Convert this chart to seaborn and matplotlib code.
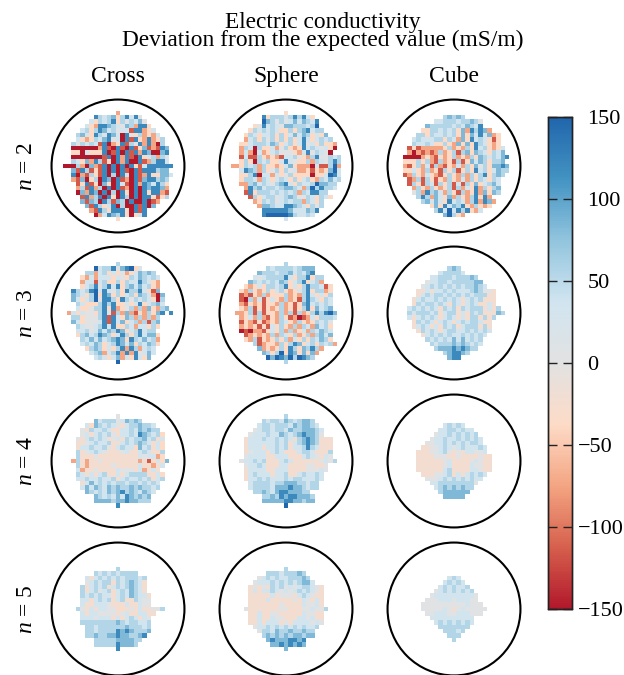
"""Electric conductivity deviation maps, three shapes by four mesh orders."""

import numpy as np
import pandas as pd
import matplotlib
matplotlib.use("Agg")
import matplotlib.pyplot as plt
import matplotlib.transforms as mtrans
import seaborn as sns

# one letter per pixel of the map, "." = outside the domain
LEVEL_VALUES = {"a": -150, "b": -115, "c": -75, "d": -38, "k": -24, "e": 5,
                "f": 34, "g": 56, "h": 84, "i": 120, "j": 148, ".": np.nan}

CROSS_N2 = [
    "............c............",
    ".......igfghdgifie.......",
    "......fdgfgidgegfhe......",
    ".....fdciihgfehgciid.....",
    "....fgdgihfgeffbiicdf....",
    "...ghfdigeihfaiedgcdcf...",
    "...fdcdgfhiefaibidcicdg..",
    "..gegfgfbiacdibgeicicag..",
    "..aaaaaacibaibaibdhbcbih.",
    "..ddafdddiabiaibicihaahi.",
    "..aaaaaaabiaicibaidfgcge.",
    "..gfdhcigbdaiciaaibcgiif.",
    "aaagcahcbiaiaiaidbfiiiiii",
    "..hbigbdbiaiaibaibiiighh.",
    "..iacbgdbiagaifaibciddhhf",
    "..cbhadgaihaibcaibhiighg.",
    "...bdibdahdaifbaicihfigd.",
    "...cgbicgaiaibcaiaihiihc.",
    "...ahcihaiagaidaiaidiicb.",
    "....bicgiaidaigaiaiidbdg.",
    "....hbhgaigbhgaiaaiabc...",
    ".....hbigdfiagaaibiah....",
    "......cbigdiiidaibi......",
    ".......acfihgidadfi......",
    "............d............",
]
SPHERE_N2 = [
    "............d............",
    ".......idgggfgigifd......",
    ".......jhgegefhfhgfi.....",
    ".....deifgfehhgggfgj.....",
    "....dgfgfgfddgdghifgg....",
    "...dgfdffgdgdfhfhgdfdh...",
    "...cfgdgegdgdgdfifdfgfg..",
    "..ddfgggfhgdfgdfiefdgddc.",
    "..cgfagddfcegdcdifgfefda.",
    "..cfcafcdfgeeedcfiegfea..",
    "..bfbbgdcdcbffgedcgieegfg",
    "..dgdagfgddfifeddgcgfegig",
    "ccdgfgcgddcdfhdcccafbbgjc",
    "..fihgcgdegdgefccdbdcdhjf",
    "..ddgiaffcfdegddddaddfjif",
    "..dggfcgfdfgfdgdfgdcgfhfg",
    "..ccghfgfeghifdgffgjhhgg.",
    "...cighfggfghhgfcgjgiggf.",
    "...bidgggfgfgfgcgfiigg...",
    "....bgdfggefghgeegfdgfd..",
    ".....cdgfgefgfggcgfdg....",
    "......chhgffiihgfdgeg....",
    ".......iiiiiihfffhgi.....",
    ".......ijjjjjigffgf......",
    "............f............",
]
CUBE_N2 = [
    ".........................",
    "..........ghghg..........",
    "........ffgggfgghge......",
    "......hgggggfgfhgfi......",
    ".....ddggfgfgdhcigihc....",
    "....ggdgffgfgdhdhfifhcd..",
    "...fgfffggdgfchdifgfdbd..",
    "...gffgfddgdchdhdigfdcd..",
    "..bdbcccccdgcdcgdifgdcdf.",
    "..cacbcbcgcdgbghdhgfdgfh.",
    ".aaaacdcbdcdgcdcgdhgfgfhi",
    ".dddgdgcbgcdbgbdhfhgdggh.",
    ".cbdgcfbgcbdcfcgdhegdhhih",
    ".ddfdcgcdbgdgbdgdifgdfhgg",
    ".bcgdcfdcbdgdcgcgdgidghg.",
    "..bcgbgdbdcgdcfcgdgfdgf..",
    "..bgdbgfbgdgbfbgdhdfghf..",
    "...cgdcgdcdgbgcfdicgdgh..",
    "...egcighfcgdbgcdichdhg..",
    "....gigchfdhcgdcgidic....",
    ".....ghfhfdifgfcgicihc...",
    ".......dhdifhgidcgdcd....",
    "........gifjfigidcf......",
    "..........hjgdc..........",
    ".........................",
]
CROSS_N3 = [
    ".........................",
    "............g............",
    ".......jfggiehijde.......",
    ".....ggcfgdfdecdfhghg....",
    "....dcfcfffdfedgfhgfgf...",
    "....cffbfgddgdgffigfdc...",
    "....dfgiegifidghfhfgdc...",
    "..igfgijfifegdiggifdbh...",
    "..hgfdgjdihdgdfgdhgfcah..",
    "..hfdfgjeiigdigegfgfdag..",
    "...gfdddgigiddfdfidfghf..",
    "...fddeggidicdegcgchdcgh.",
    ".cfdfeedgifbgchcbdcgdhi.i",
    "..ggdeeegibifdhgcgcgcg...",
    "..hfdeeefibifhdfgcgbgh...",
    "...gfeefgifiddgfcffdgd...",
    "...ffgefhfhgihdfgifgg....",
    "...dghfgihgdfigdgifhhd...",
    "....gfhfhfghihdigfhfgc...",
    "....fgfhgdfgihfhdgfhgd...",
    ".....dghgdfdgicigcfgf....",
    "......fghcfgiciciefhf....",
    ".......fgfdfhcfdifdh.....",
    "............j............",
    ".........................",
]
SPHERE_N3 = [
    ".........................",
    "............g............",
    "........gfggggfghhh......",
    "......hgggfgghfgfhi......",
    ".....fefggggifdggidgg....",
    "....hgfgfgfhgdfgidfgc....",
    "...dcdfdggfgidfdgiggfbd..",
    "..dcgdcdgdfgdcdfgidggcd..",
    "..bcbdcgcdddgcdcgifdfdg..",
    "..bagcfbdfdcgcdbgigfdgf..",
    "..cbdcdbddcgcdbdhifgfgf..",
    "..dcgbdbdcdgcdbdgidhfgh..",
    ".ccdgbgbddcgcgbgcdgigijh.",
    "..cdfcgcbdcgdbcabcfdgggf.",
    "..bdcbdbcdcgfdcgdcdgfge..",
    "..cdcdbdbfdgdcgcgfchfgd..",
    "..abaccbdfdgcgcdfcgfhgf..",
    "...bcdcdcgcgfdgcdgcghfh..",
    "...dcgbdcdgdgcfdgdgfhgd..",
    ".....gbcddcgdgihdfgdgfgc.",
    "......hcdcdgdigdhgigc....",
    ".......hgdgjdihdhdhc.....",
    "........jhjihjgjihg......",
    "............g............",
    ".........................",
]
CUBE_N3 = [
    ".........................",
    ".........................",
    "...........ghg...........",
    ".........fggggf..........",
    ".......ffgggfggghg.......",
    "......effggfggggghh......",
    ".....efgfgfgfgfgghgf.....",
    "....kkfkffgfgfffghgeek...",
    "....kfgfggfgfgfgfgggkk...",
    "...kfgffgfgfgfkfgfgkkk...",
    "...kgfggfgfkgfkfgfkkfk...",
    "..fgfgfgfkgfgkgfgggkfkg..",
    "..gfgggfgkfggkfkgfgkkkhg.",
    "..fkfgfgfkfgfkfkggkgkg...",
    "...kgfgfkfgfkfgfggfkk....",
    "...kfgfkfkgfgkfgggkgk....",
    "....kgfgfkfggffgfgfgf....",
    ".....kfgfgfgffgfgfgf.....",
    "......gfgfgfhfhfgfg......",
    ".......gfggghghgfgf......",
    "........ghhhihihgg.......",
    "..........ghiihg.........",
    "...........hii...........",
    ".........................",
    ".........................",
]
CROSS_N4 = [
    ".........................",
    ".........................",
    "............e............",
    ".......hfgggefhghg.......",
    ".....fdhgfgfekfgghggf....",
    "....ekgffgfkkffgfhghgg...",
    "....efkfgfgekffgfihgfgd..",
    "...ekfgfgfkefkgfgghfgkf..",
    "...kkefgffgkkfgfghgfkfd..",
    "...kffgffgekfgffdhfgkfd..",
    "...gkefgfekkkefkkfgfkkg..",
    "...gkkkekkkkkkkkkfeffcd..",
    "..cgkckkekkkkkkkkckbdfdh.",
    "...gkckkkkkekkkkkfkkckf..",
    "...fckkekkkkfeeekfckfk...",
    "...gfkfkfgkkfkfggggkkfd..",
    "...ffgffgffgkfgffgfgkfg..",
    "....kfhfgfgfggfggfgfgf...",
    "....fhfhgfhghgghghggfg...",
    ".....hgfgfhghighgfhgf....",
    ".......hgfgfhfihghgh.....",
    ".......hhhhghhihhggg.....",
    "............i............",
    ".........................",
    ".........................",
]
SPHERE_N4 = [
    ".........................",
    ".........................",
    "............g............",
    ".......gfggfhgfghhg......",
    "......fggfgggfhghhgf.....",
    ".....efggfggfhgghhhgf....",
    "....efffgffhgfghihhge....",
    "...kfffgffgfgfkghihgkkk..",
    "...kffffffgfgkfghihgkkk..",
    "...kfffkffgfgkffgigfkkk..",
    "...kefffkfgfkkkfggfkkkg..",
    "...effffkkfffkkkfgfekfe..",
    "..effgfgkkkfgfkkkkkkefeg.",
    "...effgfkkkffkkkkeekke...",
    "...kffffkkfffkkkkeeefe...",
    "...kfgfffkffgkkfgffgf....",
    "...kffgfgfffgfggfffgf....",
    "....fggggfgghhhggfgg.....",
    "....fggggfhhhihhgfgg.....",
    ".....gghgfhiihhhgg.......",
    ".......gghgihiihhhg......",
    ".......hhhhhiihhghh......",
    "............j............",
    ".........................",
    ".........................",
]
CUBE_N4 = [
    ".........................",
    ".........................",
    ".........................",
    ".........................",
    "..........fgfgf..........",
    ".........ffggfgff........",
    "........effgfgfgfg.......",
    ".......effgffgfgfgf......",
    "......eeffgfgfgfggf......",
    ".....kkeefgfefgfffgf.....",
    "....kkkeefgekekffeef.....",
    "....kkkkeeekkekkkkekk....",
    "....kkkkkkefkkkkefekk....",
    "....kkkkkkefkkkkfeekk....",
    "....kkkkkkfgkkkkffekk....",
    ".....kkkeefgkfkfgfgf.....",
    "......eeefgfgfgfgff......",
    ".......ffgggggggge.......",
    "........fghghghgg........",
    ".........ghhhhhh.........",
    "..........hhhhh..........",
    ".........................",
    ".........................",
    ".........................",
    ".........................",
]
CROSS_N5 = [
    ".........................",
    ".........................",
    ".........................",
    "............g............",
    ".......gfgfgfgggg........",
    ".....fkfgfgfgfgggfg......",
    ".....efgfggkgfghgfk......",
    "....gkfgfgkfgfghgfk......",
    "....gkfgefgkfgfhgfk......",
    "....gfgfgffkfgfhgffk.....",
    "....ffkfgfgkfgkkgfee.....",
    "....fkkfffekkkfkkfee.....",
    "...gekfkffeekdkekfkkeeg..",
    "....fkffeeeekefkkffkk....",
    "....fffefffkfkfgfkfe.....",
    "....gggggggghgfggffg.....",
    ".....ggfgggggghgggfg.....",
    ".....ggfggggihihgggh.....",
    ".....gghgghhihhgghi......",
    ".......ggggghhhhgg.......",
    ".......gggggihhhg........",
    "............i............",
    ".........................",
    ".........................",
    ".........................",
]
SPHERE_N5 = [
    ".........................",
    ".........................",
    ".........................",
    "............g............",
    "........gggfggghg........",
    "......efgfgffggghg.......",
    ".....efffgfgfgfghhf......",
    "....kekekgfgefefggfek....",
    "....kfkffgfefefgfgfek....",
    "....kkkkkfkeeekfgfekk....",
    "....kkkkfkkkkkekfekfk....",
    "....kkkkkkkekkkkfeefk....",
    "...ekkkkkkkeekkkeefeeg...",
    "....kkfkkeekkkkkfeekk....",
    "....kkfkkfeekkkffefkk....",
    "....kkfkfffkekffffefe....",
    ".....effgfgfgfgfgffg.....",
    "......eggfhgghgghgg......",
    ".......ghghghghhghh......",
    "........hihhhiihi........",
    ".........hhihihih........",
    "............h............",
    ".........................",
    ".........................",
    ".........................",
]
CUBE_N5 = [
    ".........................",
    ".........................",
    ".........................",
    ".........................",
    ".........................",
    "...........fgf...........",
    "..........fgfgf..........",
    ".........fgfgffg.........",
    "........efgfgfgfg........",
    ".......efffffffffe.......",
    "......eeefffefffee.......",
    ".....eeeeeeeeeefeee......",
    ".....eeeeefekefeeeee.....",
    "......eefffeefffeee......",
    ".......ffffffffff........",
    "........fgfgfgfgf........",
    ".........ggggggg.........",
    "..........gggfg..........",
    "...........ggg...........",
    "............g............",
    ".........................",
    ".........................",
    ".........................",
    ".........................",
    ".........................",
]

COLUMN_TITLES = ["Cross", "Sphere", "Cube"]
ROW_TITLES = [r"$n$ = 2", r"$n$ = 3", r"$n$ = 4", r"$n$ = 5"]
PANELS = [
    [CROSS_N2, SPHERE_N2, CUBE_N2],
    [CROSS_N3, SPHERE_N3, CUBE_N3],
    [CROSS_N4, SPHERE_N4, CUBE_N4],
    [CROSS_N5, SPHERE_N5, CUBE_N5],
]
CBAR_TICKS = [-150, -100, -50, 0, 50, 100, 150]
CBAR_LABELS = ["\u2212150", "\u2212100", "\u221250", "0", "50", "100", "150"]

W, H = 624, 675
CELL = 4.43  # pixels per map cell
COL_X = [118, 286, 454]
ROW_Y = [166, 313, 461, 609]


def to_frame(rows):
    """Turn the letter rows into a table of values."""
    values = [[LEVEL_VALUES[ch] for ch in row[:25].ljust(25, ".")] for row in rows]
    return pd.DataFrame(values)


def px_axes(fig, x0, y0, x1, y1):
    """Axes from picture pixels, y counted from the top."""
    return fig.add_axes([x0 / W, 1 - y1 / H, (x1 - x0) / W, (y1 - y0) / H])


sns.set_style("white")
plt.rcParams["font.family"] = ["Liberation Serif", "DejaVu Serif"]
plt.rcParams["mathtext.fontset"] = "custom"
plt.rcParams["mathtext.it"] = "Liberation Serif:italic"
plt.rcParams["mathtext.rm"] = "Liberation Serif"
plt.rcParams["text.color"] = "black"
plt.rcParams["ytick.labelcolor"] = "black"
plt.rcParams["axes.axisbelow"] = False

cmap = sns.blend_palette(["#b2182b", "#d6604d", "#f4a582", "#fddbc7", "#e2e2e2",
                          "#d1e5f0", "#92c5de", "#4393c3", "#2166ac"], n_colors=256, as_cmap=True)

fig = plt.figure(figsize=(W / 100, H / 100), dpi=100)

half = 16 * CELL
cax = px_axes(fig, 548, 117, 572, 609)
for i, row_panels in enumerate(PANELS):
    for j, rows in enumerate(row_panels):
        ax = px_axes(fig, COL_X[j] - half, ROW_Y[i] - half, COL_X[j] + half, ROW_Y[i] + half)
        first = i == 0 and j == 0
        sns.heatmap(to_frame(rows), ax=ax, cmap=cmap, vmin=-150, vmax=150,
                    xticklabels=False, yticklabels=False, cbar=first,
                    cbar_ax=cax if first else None)
        ax.set_xlim(-3.5, 28.5)
        ax.set_ylim(28.5, -3.5)
        ax.add_patch(plt.Circle((12.5, 12.5), 15, fill=False, color="black", lw=1.5, clip_on=False))
        ax.set_axis_off()

for x, name in zip(COL_X, COLUMN_TITLES):
    fig.text(x / W, 1 - 82 / H, name, ha="center", va="baseline", fontsize=17)
for y, name in zip(ROW_Y, ROW_TITLES):
    fig.text(27 / W, 1 - y / H, name, ha="center", va="center", rotation=90, fontsize=17)

fig.text(323 / W, 1 - 46 / H, "Electric conductivity\nDeviation from the expected value (mS/m)",
         ha="center", va="baseline", fontsize=16.8, linespacing=0.8, multialignment="center")

cax.set_yticks(CBAR_TICKS)
cax.set_yticklabels(CBAR_LABELS, fontsize=16)
cax.tick_params(axis="y", left=True, right=True, direction="in", length=6.5, width=1, color="#222222", pad=4)
# the digits line up and the minus signs hang to the left of them
shift = mtrans.ScaledTranslation(10 / 100, 0, fig.dpi_scale_trans)
for tick_value, label in zip(CBAR_TICKS, cax.get_yticklabels()):
    if tick_value >= 0:
        label.set_transform(label.get_transform() + shift)
for spine in cax.spines.values():
    spine.set_visible(True)
    spine.set_linewidth(1)
    spine.set_color("#222222")

fig.savefig("out.png", dpi=100)
